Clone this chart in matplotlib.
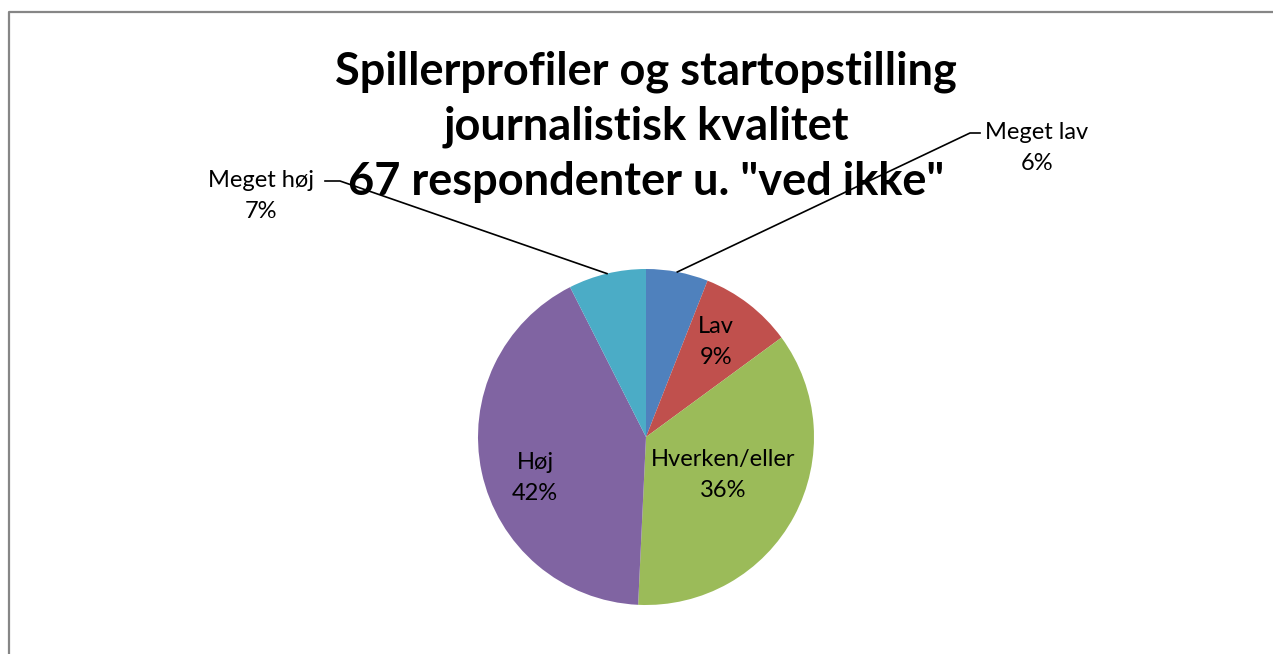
import numpy as np
import matplotlib.pyplot as plt

# Svarfordeling (antal respondenter, i alt 67)
kategorier = ['Meget lav', 'Lav', 'Hverken/eller', 'Høj', 'Meget høj']
antal = [4, 6, 24, 28, 5]
procent = ['6%', '9%', '36%', '42%', '7%']
farver = ['#4F81BD', '#C0504D', '#9BBB59', '#8064A2', '#4BACC6']

titel = 'Spillerprofiler og startopstilling\njournalistisk kvalitet\n67 respondenter u. "ved ikke"'

W, H = 1273, 654
fig = plt.figure(figsize=(W / 100, H / 100), dpi=100)
ax = fig.add_axes([0, 0, 1, 1])

plt.rcParams['font.family'] = ['Lato', 'DejaVu Sans']

# Ramme om diagrammet
ax.plot([9, 9, W + 5], [-5, H - 12, H - 12], color='#868686', lw=1.6, clip_on=False)

cx, cy, r = 646, H - 437, 168
wedges, _ = ax.pie(antal, colors=farver, startangle=90, counterclock=False,
                   center=(cx, cy), radius=r, frame=True,
                   wedgeprops=dict(linewidth=0))
ax.set_xlim(0, W)
ax.set_ylim(0, H)
ax.set_aspect('equal')
ax.axis('off')

def kant(w):
    a = np.deg2rad((w.theta1 + w.theta2) / 2)
    return cx + r * np.cos(a), cy + r * np.sin(a)

# Etiketter inde i udsnittene
inde = {1: (716, H - 342), 2: (723, H - 475), 3: (535, H - 478)}
for i, (tx, ty) in inde.items():
    ax.text(tx, ty, f'{kategorier[i]}\n{procent[i]}',
            ha='center', va='center', fontsize=17, linespacing=1.55)

# Etiketter udenfor med forbindelseslinjer
ude = {0: (1037, H - 148, 980, 970, H - 133), 4: (261, H - 196, 325, 340, H - 181)}
for i, (tx, ty, x1, x2, ly) in ude.items():
    px, py = kant(wedges[i])
    ax.plot([px, x2, x1], [py, ly, ly], color='black', lw=1.2)
    ax.text(tx, ty, f'{kategorier[i]}\n{procent[i]}',
            ha='center', va='center', fontsize=17, linespacing=1.55)

ax.text(646, H - 127, titel, ha='center', va='center', fontsize=32.5,
        fontweight='bold', linespacing=1.38)

fig.savefig('out.png', dpi=100)
